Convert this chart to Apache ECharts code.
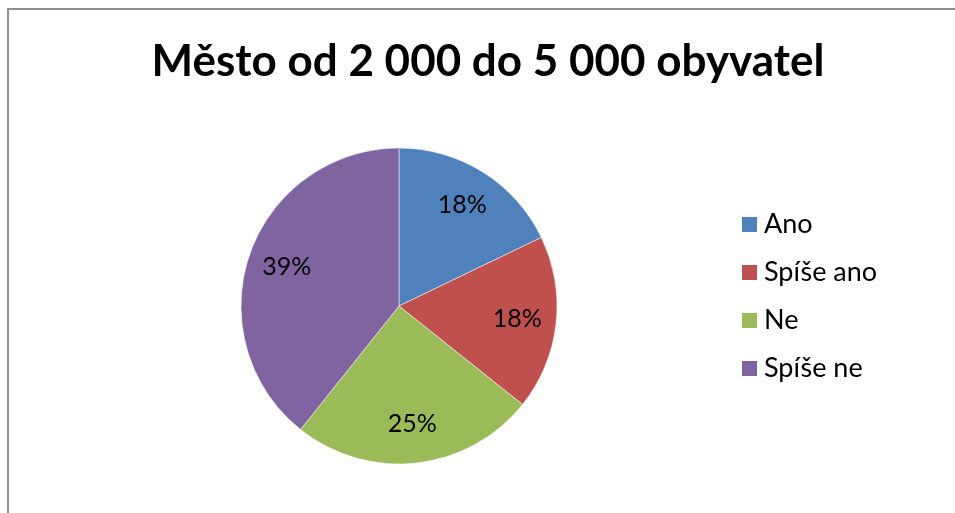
<!DOCTYPE html>
<html><head><meta charset="utf-8">
<script src="https://cdn.jsdelivr.net/npm/echarts@6/dist/echarts.min.js"></script>
<style>html,body{margin:0;padding:0;background:#fff}#c{width:955px;height:513px}</style>
</head><body><div id="c"></div>
<script>
const title = 'Město od 2 000 do 5 000 obyvatel';
const categories = ['Ano', 'Spíše ano', 'Ne', 'Spíše ne'];
const values = [5, 5, 7, 11];
const colors = ['#4F81BD', '#C0504D', '#9BBB59', '#8064A2'];

const data = categories.map((n, i) => ({ name: n, value: values[i], itemStyle: { color: colors[i] } }));
const chart = echarts.init(document.getElementById('c'));
chart.setOption({
  animation: false,
  title: { text: title, left: 488, top: 40, textAlign: 'center', padding: 0,
    textStyle: { fontFamily: 'Lato', fontWeight: 'bold', fontSize: 44, color: '#000' } },
  graphic: [{ type: 'rect', shape: { x: 8, y: 9, width: 1000, height: 600 },
    style: { fill: 'none', stroke: '#8e8e8e', lineWidth: 2 }, silent: true }],
  legend: { orient: 'vertical', left: 740, top: 211, padding: 0, itemWidth: 17, itemHeight: 17, itemGap: 21,
    icon: 'rect', data: categories,
    textStyle: { fontFamily: 'Lato', fontSize: 27, color: '#000', padding: [0,0,0,1] } },
  series: [
    { type: 'pie', center: [399, 306], radius: [0, 158], startAngle: 90, clockwise: true,
      label: { show: false }, labelLine: { show: false }, data: data,
      itemStyle: { borderColor: '#fff', borderWidth: 0.5 } },
    { type: 'pie', center: [399, 306], radius: [74, 158], startAngle: 90, clockwise: true, silent: true,
      data: categories.map((n, i) => ({ name: n, value: values[i] })),
      itemStyle: { color: 'rgba(0,0,0,0)' }, legendHoverLink: false,
      label: { show: true, position: 'inside', fontFamily: 'Lato', fontSize: 25, color: '#000',
        formatter: p => Math.round(p.percent) + '%' },
      labelLine: { show: false } }
  ]
});
</script></body></html>
